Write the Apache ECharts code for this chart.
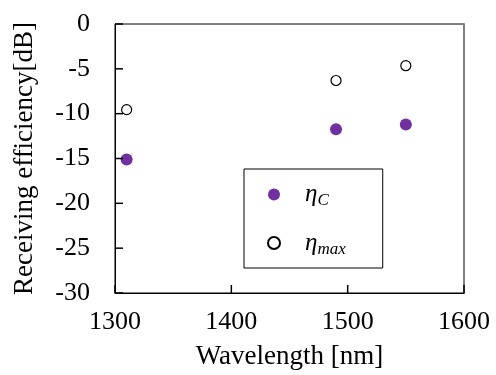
<!DOCTYPE html>
<html><head><meta charset="utf-8">
<script src="https://cdn.jsdelivr.net/npm/echarts@6/dist/echarts.min.js"></script>
<style>html,body{margin:0;padding:0;background:#fff}#c{width:496px;height:375px}</style>
</head><body><div id="c"></div>
<script>
const wavelengths = [1310, 1490, 1550];
const etaC = [-15.1, -11.75, -11.2];
const etaMax = [-9.55, -6.3, -4.65];
const xTicks = [1300, 1400, 1500, 1600];
const yTicks = [-30, -25, -20, -15, -10, -5, 0];
const seriesNames = ['ηC', 'ηmax'];
const subs = {'ηC': 'C', 'ηmax': 'max'};
const FONT = '"Liberation Serif", "Times New Roman", serif';
const xMin = xTicks[0], xMax = xTicks[xTicks.length - 1];
const yMin = yTicks[0], yMax = yTicks[yTicks.length - 1];
const TICK = 8;
function tickSeries(data, vertical) {
  return {
    type: 'custom', coordinateSystem: 'cartesian2d', silent: true, z: 10, clip: false,
    data: data,
    renderItem: (params, api) => {
      const p = api.coord([api.value(0), api.value(1)]);
      const x = p[0], y = p[1];
      return {
        type: 'line',
        shape: vertical ? {x1: x, y1: y, x2: x, y2: y - TICK} : {x1: x, y1: y, x2: x + TICK, y2: y},
        style: {stroke: '#000', lineWidth: 1.5}
      };
    }
  };
}
const chart = echarts.init(document.getElementById('c'));
chart.setOption({
  animation: false,
  backgroundColor: '#fff',
  grid: {left: 115, right: 32, top: 24, bottom: 82, show: true, borderColor: '#000', borderWidth: 1, backgroundColor: 'transparent'},
  xAxis: [{
    type: 'value', min: xMin, max: xMax, interval: 100,
    axisLine: {show: true, onZero: false, lineStyle: {color: '#000', width: 1}},
    axisTick: {show: false},
    splitLine: {show: false},
    axisLabel: {color: '#000', fontFamily: FONT, fontSize: 26, margin: 16, formatter: v => String(v)},
    name: 'Wavelength [nm]', nameLocation: 'middle', nameGap: 50,
    nameTextStyle: {color: '#000', fontFamily: FONT, fontSize: 27}
  }],
  yAxis: [{
    type: 'value', min: yMin, max: yMax, interval: 5,
    axisLine: {show: true, onZero: false, lineStyle: {color: '#000'}},
    axisTick: {show: false},
    splitLine: {show: false},
    axisLabel: {color: '#000', fontFamily: FONT, fontSize: 26, margin: 25, formatter: v => String(v)},
    name: 'Receiving efficiency[dB]', nameLocation: 'middle', nameGap: 77,
    nameTextStyle: {color: '#000', fontFamily: FONT, fontSize: 27}
  }, {
    type: 'value', position: 'right', min: yMin, max: yMax,
    axisLine: {show: true, onZero: false, lineStyle: {color: '#808080', width: 2}},
    axisTick: {show: false}, axisLabel: {show: false}, splitLine: {show: false}
  }],
  legend: {
    left: 244, top: 169, orient: 'vertical',
    data: seriesNames,
    itemWidth: 12, itemHeight: 12, itemGap: 21,
    padding: [13, 37, 10, 23],
    borderColor: '#000', borderWidth: 1,
    formatter: n => '{a|η}{b|' + subs[n] + '}',
    textStyle: {
      rich: {
        a: {fontFamily: FONT, fontStyle: 'italic', fontSize: 25, color: '#000', padding: [0,0,0,20], lineHeight: 30},
        b: {fontFamily: FONT, fontStyle: 'italic', fontSize: 17, color: '#000', verticalAlign: 'bottom', padding: [8,0,0,0], lineHeight: 30}
      }
    }
  },
  series: [{
    name: seriesNames[0], type: 'scatter', symbol: 'circle', symbolSize: 12,
    itemStyle: {color: '#7030A0', opacity: 1},
    data: wavelengths.map((w, i) => [w, etaC[i]])
  }, {
    name: seriesNames[1], type: 'scatter', symbol: 'circle', symbolSize: 10,
    itemStyle: {color: '#fff', borderColor: '#000', borderWidth: 1.2, opacity: 1},
    data: wavelengths.map((w, i) => [w, etaMax[i]])
  },
  tickSeries(xTicks.map(v => [v, yMin]), true),
  tickSeries(yTicks.map(v => [xMin, v]), false)
  ]
});
</script></body></html>
